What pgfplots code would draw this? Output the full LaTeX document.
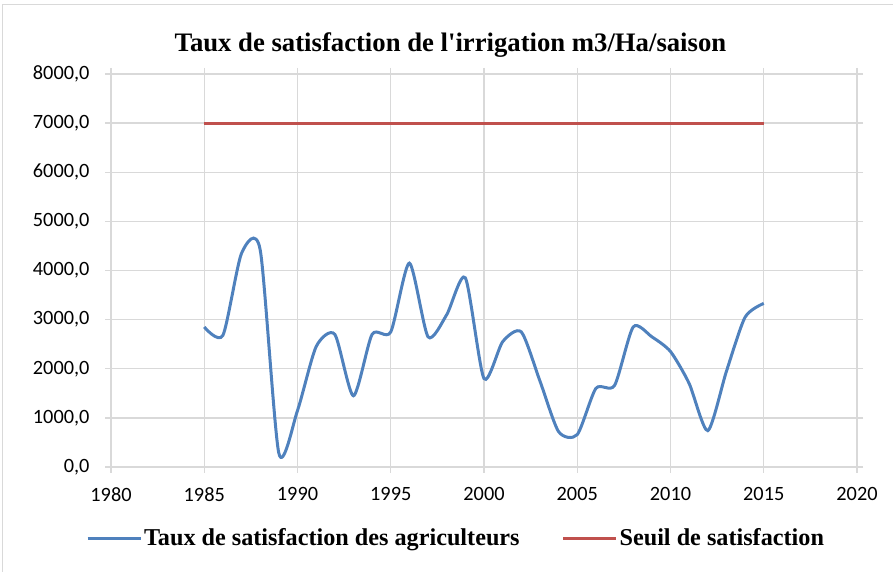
\documentclass[border=0pt]{standalone}
\usepackage{fontspec}
\setmainfont{Liberation Serif}
\newfontfamily\calib{Carlito}
\usepackage{pgfplots}
\pgfplotsset{compat=1.18}
\definecolor{exblue}{HTML}{4F81BD}
\definecolor{exred}{HTML}{C0504D}
\definecolor{gridc}{HTML}{D9D9D9}
\begin{document}
\begin{tikzpicture}[x=1pt,y=1pt]
\useasboundingbox (-111,-105) rectangle (782,467);
\draw[gridc,line width=1pt] (-108,-120) rectangle (800,462);
\begin{axis}[
  at={(0,0)}, anchor=south west,
  scale only axis, width=746pt, height=393pt,
  xmin=1980, xmax=2020, ymin=0, ymax=8000,
  xtick={1980,1985,...,2020},
  ytick={0,1000,...,8000},
  grid=major,
  major grid style={gridc, line width=1.3pt},
  axis line style={draw=none},
  tick align=outside,
  major tick length=6pt,
  tick style={gridc, line width=1.3pt},
  /pgf/number format/assume math mode=true,
  ticklabel style={font=\calib\fontsize{20.3}{20.3}\selectfont, text=black},
  xticklabel style={yshift=-11pt, /pgf/number format/.cd, fixed, precision=0, 1000 sep={}},
  yticklabel style={xshift=-12pt, /pgf/number format/.cd, fixed, fixed zerofill, precision=1, use comma, 1000 sep={}},
  legend style={at={(0.4625,-0.181)}, anchor=center, draw=none, fill=none,
    font=\bfseries\fontsize{24.2}{24.2}\selectfont, legend columns=2,
    /tikz/every even column/.append style={column sep=40pt}},
  legend image code/.code={\draw[#1] (0pt,0pt) -- (53pt,0pt);},
  clip=false,
]
\addplot[exblue, line width=3pt, smooth, tension=0.42] coordinates {
(1985,2850) (1986,2680) (1987,4350) (1988,4420) (1989,280) (1990,1150)
(1991,2450) (1992,2700) (1993,1450) (1994,2700) (1995,2750) (1996,4150)
(1997,2650) (1998,3100) (1999,3850) (2000,1800) (2001,2550) (2002,2750)
(2003,1750) (2004,720) (2005,660) (2006,1600) (2007,1660) (2008,2850)
(2009,2650) (2010,2350) (2011,1700) (2012,740) (2013,1950) (2014,3050)
(2015,3330)};
\addlegendentry{Taux de satisfaction des agriculteurs}
\addplot[exred, line width=3pt] coordinates {(1985,7000) (2015,7000)};
\addlegendentry{Seuil de satisfaction}
\node[anchor=base, font=\bfseries\fontsize{26.7}{26.7}\selectfont] at (axis cs:1998.2,0) [yshift=415pt] {Taux de satisfaction de l\textquotesingle irrigation m3/Ha/saison};
\end{axis}
\end{tikzpicture}
\end{document}
